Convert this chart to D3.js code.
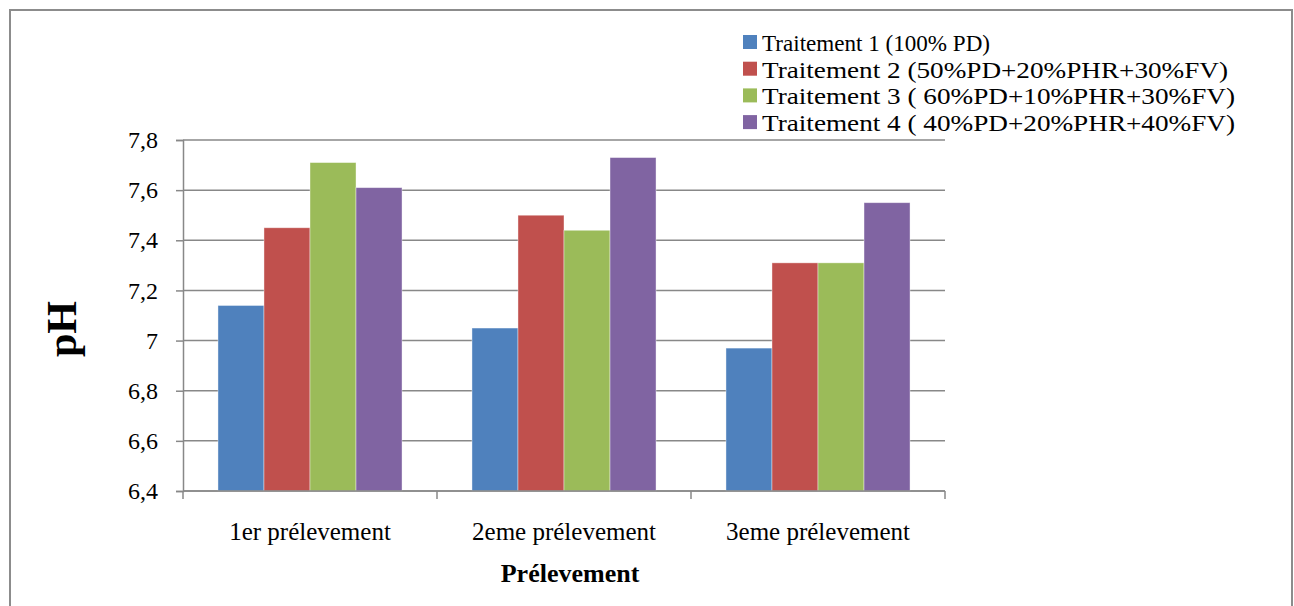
<!DOCTYPE html>
<html>
<head>
<meta charset="utf-8">
<script src="https://cdn.jsdelivr.net/npm/d3@7"></script>
<style>
  body { margin: 0; background: #fff; }
  text { font-family: "Liberation Serif", "Times New Roman", serif; fill: #000; }
</style>
</head>
<body>
<script>
    // data
    var categories = ["1er prélevement", "2eme prélevement", "3eme prélevement"];
    var seriesNames = [
      "Traitement 1 (100% PD)",
      "Traitement 2 (50%PD+20%PHR+30%FV)",
      "Traitement 3 ( 60%PD+10%PHR+30%FV)",
      "Traitement 4 ( 40%PD+20%PHR+40%FV)"
    ];
    var t1 = [7.14, 7.05, 6.97];
    var t2 = [7.45, 7.50, 7.31];
    var t3 = [7.71, 7.44, 7.31];
    var t4 = [7.61, 7.73, 7.55];
    var yTicks = [6.4, 6.6, 6.8, 7.0, 7.2, 7.4, 7.6, 7.8];
    var colors = ["#4F81BD", "#C0504D", "#9BBB59", "#8064A2"];

    var series = [t1, t2, t3, t4];

    var W = 1294, H = 606;
    var margin = {top: 140, right: 349, bottom: 115, left: 183},
    width = W - margin.left - margin.right,
    height = H - margin.top - margin.bottom;

    // legend text widths as drawn in the original
    var legendWidths = [228, 466, 473, 473];

    var svg = d3.select("body").append("svg")
      .attr("width", W)
      .attr("height", H);

    // outer frame
    svg.append("rect")
      .attr("x", 10).attr("y", 10)
      .attr("width", 1282).attr("height", 620)
      .attr("fill", "none")
      .attr("stroke", "#8c8c8c")
      .attr("stroke-width", 2);

    var g = svg.append("g")
      .attr("transform", "translate(" + margin.left + "," + margin.top + ")");

    var x0 = d3.scaleBand().domain(categories).range([0, width]).padding(0);
    var x1 = d3.scaleBand().domain(d3.range(series.length))
      .range([0, x0.bandwidth()]).paddingOuter(0.76).paddingInner(0);
    var y = d3.scaleLinear().domain([6.4, 7.8]).range([height, 0]);

    //gridlines
    g.append("g")
      .selectAll("line")
      .data(yTicks)
      .enter().append("line")
      .attr("x1", 0).attr("x2", width)
      .attr("y1", function(d) { return y(d); })
      .attr("y2", function(d) { return y(d); })
      .attr("stroke", "#888")
      .attr("stroke-width", 1.5);

    //bars
    series.forEach(function(vals, si) {
      g.append("g")
        .selectAll("rect")
        .data(vals)
        .enter().append("rect")
        .attr("x", function(d, i) { return x0(categories[i]) + x1(si); })
        .attr("y", function(d) { return y(d); })
        .attr("width", x1.bandwidth())
        .attr("height", function(d) { return height - y(d); })
        .attr("fill", colors[si])
        .attr("stroke", "rgba(255,255,255,0.5)")
        .attr("stroke-width", 0.8);
    });

    //y axis
    var yAxis = g.append("g")
      .call(d3.axisLeft(y).tickValues(yTicks).tickSize(7).tickPadding(18)
        .tickFormat(function(d) { return d === 7 ? "7" : d3.format(".1f")(d).replace(".", ","); }));
    yAxis.select(".domain").attr("stroke", "#888").attr("stroke-width", 1.5);
    yAxis.selectAll(".tick line").attr("stroke", "#888").attr("stroke-width", 1.5);
    yAxis.selectAll("text").style("font-size", "24px")
      .style("font-family", "'Liberation Serif', serif").attr("fill", "#000");

    //x axis
    var xAxis = g.append("g")
      .attr("transform", "translate(0," + height + ")")
      .call(d3.axisBottom(x0).tickSize(0).tickPadding(31));
    xAxis.select(".domain").remove();
    xAxis.append("line").attr("x1", 0).attr("x2", width)
      .attr("stroke", "#888").attr("stroke-width", 1.5);
    xAxis.selectAll(".sep")
      .data(d3.range(categories.length + 1))
      .enter().append("line")
      .attr("class", "sep")
      .attr("x1", function(d) { return d * x0.bandwidth(); })
      .attr("x2", function(d) { return d * x0.bandwidth(); })
      .attr("y1", 0).attr("y2", 8)
      .attr("stroke", "#888").attr("stroke-width", 1.5);
    xAxis.selectAll("text").style("font-size", "25px")
      .style("font-family", "'Liberation Serif', serif").attr("fill", "#000");

    //axis titles
    svg.append("text")
      .attr("x", margin.left + width / 2 + 6)
      .attr("y", 582)
      .attr("text-anchor", "middle")
      .style("font-size", "26px")
      .style("font-weight", "bold")
      .text("Prélevement");

    svg.append("text")
      .attr("transform", "translate(76," + (margin.top + 189) + ") rotate(-90)")
      .attr("text-anchor", "middle")
      .style("font-size", "42px")
      .style("font-weight", "bold")
      .text("pH");

    //legend
    var leg = svg.append("g").attr("transform", "translate(743,35)");
    seriesNames.forEach(function(name, i) {
      var row = leg.append("g").attr("transform", "translate(0," + (i * 26.7) + ")");
      row.append("rect")
        .attr("x", 0).attr("y", 0)
        .attr("width", 14).attr("height", 14)
        .attr("fill", colors[i]);
      row.append("text")
        .attr("x", 19).attr("y", 16)
        .attr("textLength", legendWidths[i])
        .attr("lengthAdjust", "spacingAndGlyphs")
        .style("font-size", "23px")
        .text(name);
    });
</script>
</body>
</html>
